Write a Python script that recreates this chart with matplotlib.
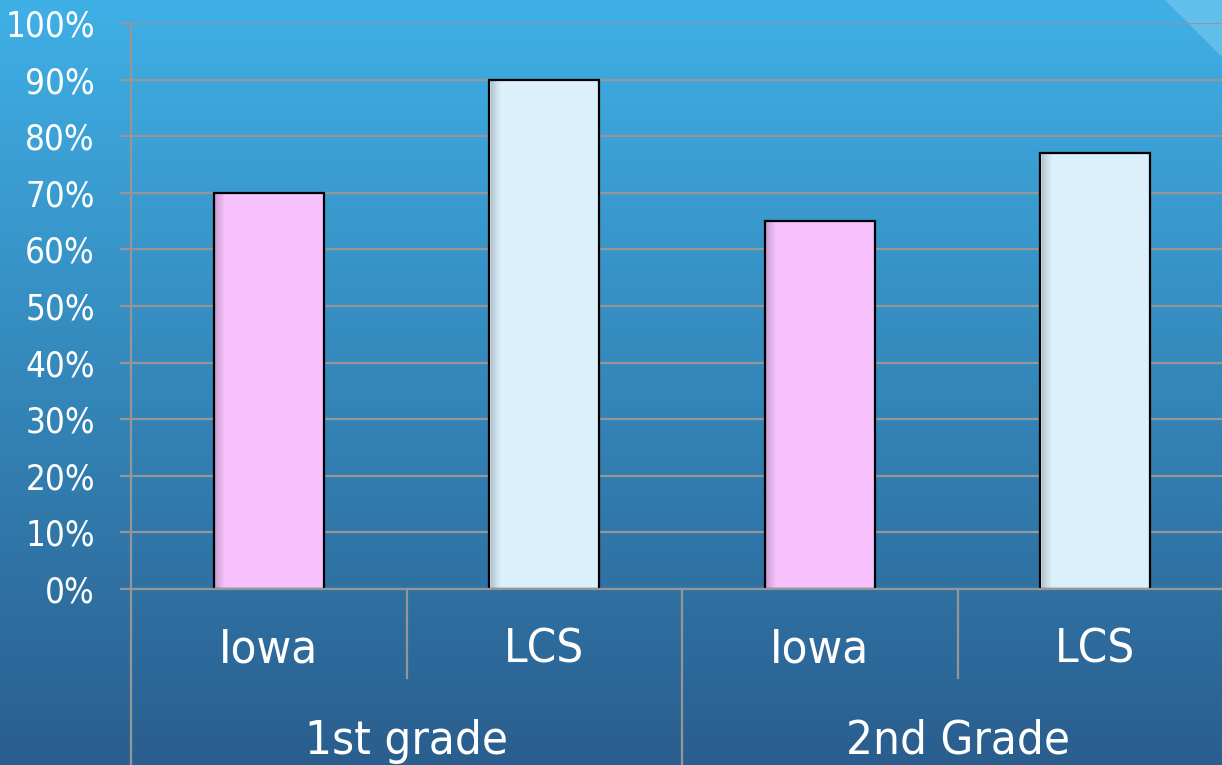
import numpy as np
import matplotlib
matplotlib.use("Agg")
import matplotlib.pyplot as plt
from matplotlib.patches import Polygon

# data
groups = ["1st grade", "2nd Grade"]
schools = ["Iowa", "LCS", "Iowa", "LCS"]
values = [70, 90, 65, 77]
bar_colors = ["#f6c1fc", "#dcf0fc", "#f6c1fc", "#dcf0fc"]
yticks = list(range(0, 101, 10))

plt.rcParams['font.family'] = ['DejaVu Sans']
W, H = 1222, 765
fig = plt.figure(figsize=(W / 100, H / 100), dpi=100)

# background gradient
bg = fig.add_axes([0, 0, 1, 1], zorder=-10)
top = np.array([0x3f, 0xb0, 0xe6]) / 255
bot = np.array([0x2a, 0x5e, 0x8e]) / 255
t = np.linspace(0, 1, 256)[:, None]
grad = (top * (1 - t) + bot * t)[:, None, :]
bg.imshow(grad, aspect="auto", extent=[0, 1, 0, 1])
bg.add_patch(Polygon([[1165 / W, 1], [1, 1], [1, 1 - 57 / H]], closed=True,
                     facecolor="#8fd3f3", alpha=0.45, edgecolor="none"))
bg.set_xlim(0, 1)
bg.set_ylim(0, 1)
bg.axis("off")

cat_w = 275.5
ax_left, ax_right = 131, W
ax = fig.add_axes([ax_left / W, 176 / H, (ax_right - ax_left) / W, 566 / H])
ax.patch.set_alpha(0)
ax.set_xlim(-0.5, -0.5 + (ax_right - ax_left) / cat_w)
ax.set_ylim(0, 100)

grid_c = "#969696"
lw = 1.6
x = np.arange(len(values))
bw = 0.4
ax.bar(x, values, width=bw, color=bar_colors, edgecolor="black", linewidth=1.6, zorder=3)

# soft shading on the left edge of each bar
shade = np.zeros((1, 64, 4))
shade[0, :, 3] = np.linspace(0.28, 0.0, 64) ** 1.3
for xi, v in zip(x, values):
    x0 = xi - bw / 2
    ax.imshow(shade, aspect="auto", extent=[x0 + 0.006, x0 + 0.045, 0, v - 0.3],
              zorder=3.5, interpolation="bilinear")
ax.set_xlim(-0.5, -0.5 + (ax_right - ax_left) / cat_w)
ax.set_ylim(0, 100)

ax.set_yticks(yticks)
ax.set_yticklabels([f"{v}%" for v in yticks], color="white", fontsize=25,
                   fontstretch="condensed")
ax.tick_params(axis="y", length=8, width=lw, color=grid_c, pad=18)
ax.set_xticks([])
ax.grid(axis="y", color=grid_c, linewidth=lw, zorder=1)
for s in ["top", "right"]:
    ax.spines[s].set_visible(False)
ax.spines["bottom"].set_color(grid_c)
ax.spines["bottom"].set_linewidth(lw)
ax.spines["bottom"].set_zorder(4)
ax.spines["left"].set_visible(False)

tr = ax.get_xaxis_transform()
low = -(H - 589) / 566
# left axis line running to bottom edge
ax.plot([-0.5, -0.5], [1, low], transform=tr, color=grid_c, lw=lw, clip_on=False, zorder=4)
# category dividers
for b in [0.5, 2.5]:
    ax.plot([b, b], [0, -89 / 566], transform=tr, color=grid_c, lw=lw, clip_on=False)
ax.plot([1.5, 1.5], [0, low], transform=tr, color=grid_c, lw=lw, clip_on=False)

for xi, s in zip(x, schools):
    ax.text(xi, -61 / 566, s, transform=tr, ha="center", va="center",
            color="white", fontsize=34, fontstretch="condensed")
for gi, g in enumerate(groups):
    ax.text(gi * 2 + 0.5, -152 / 566, g, transform=tr, ha="center", va="center",
            color="white", fontsize=34, fontstretch="condensed")

fig.savefig("out.png", dpi=100)
